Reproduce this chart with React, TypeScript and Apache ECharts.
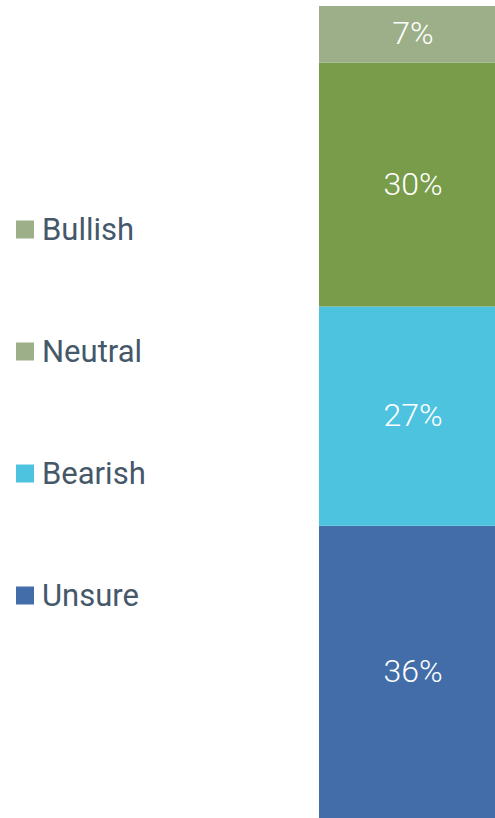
import React, { useEffect, useRef } from "react";
import * as echarts from "echarts";

const categories = ["Sentiment"];
const seriesNames = ["Unsure", "Bearish", "Neutral", "Bullish"];
const seriesValues = [36, 27, 30, 7];
const seriesColors = ["#426da9", "#4ec3df", "#789c4a", "#9caf88"];
const legendOrder = ["Bullish", "Neutral", "Bearish", "Unsure"];
const legendColors = ["#9caf88", "#9caf88", "#4ec3df", "#426da9"];

export default function App() {
  const ref = useRef<HTMLDivElement>(null);
  useEffect(() => {
    document.body.style.margin = "0";
    const chart = echarts.init(ref.current!, null, { renderer: "svg" });
    chart.setOption({
      animation: false,
      backgroundColor: "#ffffff",
      grid: { left: 319, right: 0, top: 6, bottom: 0 },
      legend: {
        orient: "vertical",
        left: 16,
        top: 214,
        padding: 0,
        icon: "rect",
        itemWidth: 18,
        itemHeight: 18,
        itemGap: 91,
        selectedMode: false,
        textStyle: {
          fontFamily: "Roboto",
          fontSize: 31,
          lineHeight: 31,
          color: "#45586a",
          padding: [0, 0, 0, 3],
        },
        data: legendOrder.map((n, i) => ({ name: n, itemStyle: { color: legendColors[i] } })),
      },
      xAxis: {
        type: "category",
        data: categories,
        show: false,
      },
      yAxis: { type: "value", min: 0, max: 100, show: false },
      series: seriesNames.map((name, i) => ({
        name,
        type: "bar",
        stack: "total",
        barWidth: "100%",
        data: [seriesValues[i]],
        itemStyle: { color: seriesColors[i] },
        label: {
          show: true,
          position: "inside",
          offset: [6, -1],
          formatter: "{c}%",
          color: "#ffffff",
          fontFamily: "Roboto",
          fontWeight: 300,
          fontSize: 32,
        },
      })),
    });
    return () => chart.dispose();
  }, []);
  return <div ref={ref} style={{ position: "fixed", left: 0, top: 0, width: 495, height: 818, overflow: "hidden" }} />;
}
